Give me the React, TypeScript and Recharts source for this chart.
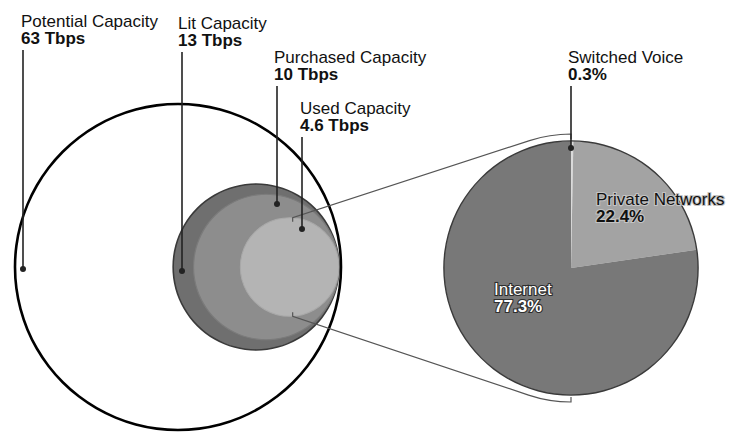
import { PieChart, Pie, Cell } from "recharts"

// capacity circles (Tbps)
const capacityNames = ["Potential Capacity", "Lit Capacity", "Purchased Capacity", "Used Capacity"]
const capacityTbps = [63, 13, 10, 4.6]

// how used capacity splits up (%)
const trafficNames = ["Switched Voice", "Private Networks", "Internet"]
const trafficShares = [0.3, 22.4, 77.3]

const W = 729
const H = 432
const font = "'Liberation Sans', Arial, Helvetica, sans-serif"

// circles share one right edge, area ~ capacity (outer one clamped to fit)
const circleCy = 267
const radiusFor = (tbps: number) => Math.min(23 * Math.sqrt(tbps), 163)
const rightFor = (i: number) => (i === 0 ? 341 : 339)

const circleFills = ["#ffffff", "#6f6f6f", "#8d8d8d", "#b4b4b4"]
const ringColors = ["#000000", "#3a3a3a", "#7b7b7b", "#a9a9a9"]
const ringWidths = [2.6, 1.6, 1.2, 1]

const pieCx = 571
const pieCy = 268
const pieR = 127
const sliceFills = ["#dadada", "#a3a3a3", "#787878"]

// label anchors: text x / baseline, leader line x, line top, dot y
const capLabels = [
  { tx: 21, ty: 27, lx: 23, top: 50, dot: 269 },
  { tx: 178, ty: 29, lx: 182, top: 52, dot: 271 },
  { tx: 274, ty: 63, lx: 277, top: 86, dot: 204 },
  { tx: 300, ty: 114, lx: 302, top: 137, dot: 229 },
]

// connector: short tick, straight run tangent to a circle around the pie, arc to top/bottom
function connector(px: number, py: number, upper: boolean) {
  const rr = pieR + 7
  const dx = px - pieCx
  const dy = py - pieCy
  const d = Math.hypot(dx, dy)
  const base = Math.atan2(dy, dx)
  const off = Math.acos(rr / d)
  const a = upper ? base + off : base - off
  const tx = pieCx + rr * Math.cos(a)
  const ty = pieCy + rr * Math.sin(a)
  const ey = upper ? pieCy - rr : pieCy + rr
  const s = upper ? 1 : -1
  return `M${px},${py + 4 * s} L${px},${py} L${tx},${ty} A${rr},${rr} 0 0 ${upper ? 1 : 0} ${pieCx},${ey} L${pieCx},${ey + 5 * s}`
}

export default function App() {
  const circles = capacityNames.map((name, i) => {
    const r = radiusFor(capacityTbps[i])
    return { name, value: capacityTbps[i], r, cx: rightFor(i) - r }
  })
  const pieData = trafficNames.map((name, i) => ({ name, value: trafficShares[i] }))

  const used = circles[3]
  const ux = used.cx + 3

  const capacityAnnotations = () => (
    <g fontFamily={font} fontSize={17} fill="#111">
      <path d={connector(ux, circleCy - used.r, true)} fill="none" stroke="#555" strokeWidth={1.2} />
      <path d={connector(ux, circleCy + used.r, false)} fill="none" stroke="#555" strokeWidth={1.2} />
      {circles.map((c, i) => {
        const p = capLabels[i]
        return (
          <g key={c.name}>
            <line x1={p.lx} y1={p.top} x2={p.lx} y2={p.dot} stroke="#222" strokeWidth={1.6} />
            <circle cx={p.lx} cy={p.dot} r={3} fill="#222" />
            <text x={p.tx} y={p.ty}>{c.name}</text>
            <text x={p.tx} y={p.ty + 16.5} fontWeight="bold">
              {c.value} Tbps
            </text>
          </g>
        )
      })}
    </g>
  )

  const trafficAnnotations = () => (
    <g fontFamily={font} fontSize={17}>
      <line x1={pieCx} y1={86} x2={pieCx} y2={148} stroke="#222" strokeWidth={1.6} />
      <circle cx={pieCx} cy={148} r={3} fill="#222" />
      <text x={568} y={63} fill="#111">{pieData[0].name}</text>
      <text x={568} y={79.5} fill="#111" fontWeight="bold">
        {pieData[0].value}%
      </text>
      <text x={596} y={205} fill="#111" stroke="#c4c4c4" strokeWidth={2.2} paintOrder="stroke">
        {pieData[1].name}
      </text>
      <text x={596} y={221.5} fill="#111" stroke="#c4c4c4" strokeWidth={2.2} paintOrder="stroke" fontWeight="bold">
        {pieData[1].value}%
      </text>
      <text x={494} y={295} fill="#fff" stroke="#2e2e2e" strokeWidth={2.2} paintOrder="stroke">
        {pieData[2].name}
      </text>
      <text x={494} y={311.5} fill="#fff" stroke="#2e2e2e" strokeWidth={2.2} paintOrder="stroke" fontWeight="bold">
        {pieData[2].value}%
      </text>
    </g>
  )

  const ring = (i: number) => {
    const c = circles[i]
    const w = ringWidths[i]
    return (
      <Pie
        key={`ring-${c.name}`}
        data={[c]}
        dataKey="value"
        cx={c.cx}
        cy={circleCy}
        innerRadius={c.r - w / 2}
        outerRadius={c.r + w / 2}
        startAngle={90}
        endAngle={-270}
        stroke="none"
        isAnimationActive={false}
        labelLine={false}
        label={i === 0 ? capacityAnnotations : false}
      >
        <Cell fill={ringColors[i]} stroke="none" />
      </Pie>
    )
  }

  return (
    <div style={{ position: "absolute", left: 0, top: 0, width: W, height: H, background: "#fff" }}>
      <PieChart width={W} height={H} margin={{ top: 0, right: 0, bottom: 0, left: 0 }}>
        {circles.map((c, i) => [
          <Pie
            key={c.name}
            data={[c]}
            dataKey="value"
            cx={c.cx}
            cy={circleCy}
            innerRadius={0}
            outerRadius={c.r}
            startAngle={90}
            endAngle={-270}
            stroke="none"
            isAnimationActive={false}
          >
            <Cell fill={circleFills[i]} stroke="none" />
          </Pie>,
          i > 0 ? ring(i) : null,
        ])}
        {ring(0)}

        <Pie
          data={pieData}
          dataKey="value"
          cx={pieCx}
          cy={pieCy}
          innerRadius={0}
          outerRadius={pieR}
          startAngle={90}
          endAngle={-270}
          stroke="none"
          isAnimationActive={false}
        >
          {pieData.map((d, i) => (
            <Cell key={d.name} fill={sliceFills[i]} stroke="none" />
          ))}
        </Pie>
        <Pie
          data={[{ name: "outline", value: 1 }]}
          dataKey="value"
          cx={pieCx}
          cy={pieCy}
          innerRadius={pieR - 0.6}
          outerRadius={pieR + 0.8}
          startAngle={90}
          endAngle={-270}
          stroke="none"
          isAnimationActive={false}
          labelLine={false}
          label={trafficAnnotations}
        >
          <Cell fill="#3a3a3a" stroke="none" />
        </Pie>
      </PieChart>
    </div>
  )
}
